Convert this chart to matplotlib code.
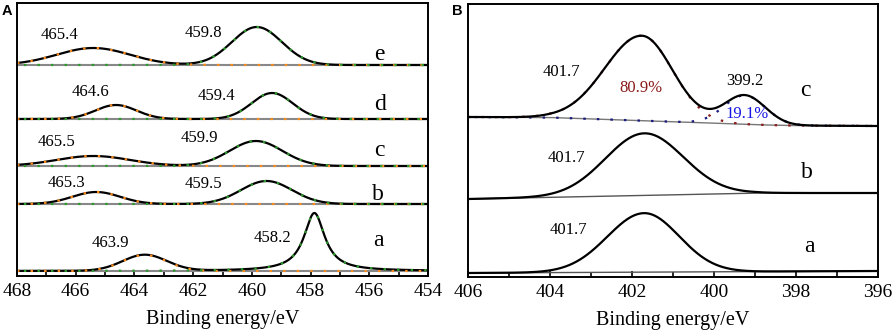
import numpy as np
import matplotlib
matplotlib.use('Agg')
import matplotlib.pyplot as plt
from matplotlib.ticker import MultipleLocator

plt.rcParams['font.family'] = ['Liberation Serif', 'DejaVu Serif']

# ---- panel A: Ti 2p, samples a..e (stacked, arbitrary intensity units)
samples_A = ['a', 'b', 'c', 'd', 'e']
offset_A = [5, 72, 110, 157, 211]
# Ti 2p1/2 component
p1_pos = [463.65, 465.3, 465.4, 464.63, 465.4]
p1_amp = [16, 12, 10, 14, 17]
p1_sig = [0.75, 0.81, 1.25, 0.7, 1.25]
p1_lab = ['463.9', '465.3', '465.5', '464.6', '465.4']
# Ti 2p3/2 component
p2_pos = [457.87, 459.5, 459.86, 459.31, 459.83]
p2_amp = [58, 23, 25, 26, 38]
p2_sig = [0.43, 0.87, 0.9, 0.7, 0.85]
p2_lab = ['458.2', '459.5', '459.9', '459.4', '459.8']

# ---- panel B: N 1s, samples a..c
samples_B = ['a', 'b', 'c']
base_B_E = [406, 404, 399, 398.2, 396]
base_B = [[4, 4.4, 5.4, 5.6, 6],
          [78, 79.7, 84, 84, 84],
          [160, 159.5, 152.3, 151.5, 151]]
n1_pos = [401.7, 401.7, 401.76]
n1_amp = [59, 62, 85]
n1_sl = [0.9, 0.95, 0.9]
n1_sr = [0.85, 0.95, 0.75]
n2_pos = [None, None, 399.25]
n2_amp = [0, 0, 29]
n2_sig = [1, 1, 0.5]
pct_c = ['80.9%', '19.1%']


def gauss(x, x0, a, s):
    return a * np.exp(-(x - x0) ** 2 / (2 * s ** 2))


def split_gauss(x, x0, a, sl, sr):
    s = np.where(x > x0, sl, sr)
    return a * np.exp(-(x - x0) ** 2 / (2 * s ** 2))


def lorentz(x, x0, a, g):
    return a * g ** 2 / ((x - x0) ** 2 + g ** 2)


fig = plt.figure(figsize=(8.95, 3.33), dpi=100)
W, H = 895, 333
axA = fig.add_axes([17 / W, (H - 276) / H, 411 / W, 273 / H])
axB = fig.add_axes([468 / W, (H - 277) / H, 410 / W, 273 / H])

orange = '#FF8C1A'
green = '#2E9A2E'
dots = (0, (1.1, 5))
dots2 = (3, (1.1, 5))

xA = np.linspace(468, 454, 800)
for i, s in enumerate(samples_A):
    base = np.full_like(xA, offset_A[i])
    c1 = gauss(xA, p1_pos[i], p1_amp[i], p1_sig[i])
    if i == 0:
        c2 = lorentz(xA, p2_pos[i], p2_amp[i], p2_sig[i])
    else:
        c2 = gauss(xA, p2_pos[i], p2_amp[i], p2_sig[i])
    axA.plot(xA, base, color='#888888', lw=1.5)
    axA.plot(xA, base + c1 + c2, color='black', lw=1.6)
    axA.plot(xA, base + c1, color=orange, lw=1.6, ls=dots)
    axA.plot(xA, base + c2, color=green, lw=1.6, ls=dots2)

labA = [  # (E, y) for p1 label, p2 label, sample letter
    [(464.83, 33), (459.31, 38), (455.7, 36)],
    [(466.33, 93), (461.66, 92), (455.7, 81)],
    [(466.67, 134), (461.8, 138), (455.64, 126)],
    [(465.48, 184), (461.22, 180), (455.64, 172)],
    [(466.54, 241), (461.66, 243), (455.64, 221)],
]
for i, s in enumerate(samples_A):
    (e1, y1), (e2, y2), (e3, y3) = labA[i]
    axA.text(e1, y1, p1_lab[i], fontsize=12, ha='center', va='center')
    axA.text(e2, y2, p2_lab[i], fontsize=12, ha='center', va='center')
    axA.text(e3, y3, s, fontsize=17, ha='center', va='center')

axA.set_xlim(468, 454)
axA.set_ylim(0, 273)

xB = np.linspace(406, 396, 800)
red = '#8B1A1A'
navy = '#1A1A80'
for i, s in enumerate(samples_B):
    base = np.interp(xB[::-1], base_B_E[::-1], base_B[i][::-1])[::-1]
    m1 = split_gauss(xB, n1_pos[i], n1_amp[i], n1_sl[i], n1_sr[i])
    if n2_pos[i] is not None:
        m2 = gauss(xB, n2_pos[i], n2_amp[i], n2_sig[i])
        axB.plot(xB, base, color='#777777', lw=1.0)
        axB.plot(xB, base + m1, color=red, lw=1.6, ls=dots)
        axB.plot(xB, base + m2, color=navy, lw=1.6, ls=dots2)
    else:
        m2 = 0 * xB
        axB.plot(xB, base, color='#555555', lw=1.0)
    axB.plot(xB, base + m1 + m2, color='black', lw=1.6)

axB.text(403.71, 205, '401.7', fontsize=12, ha='center', va='center')
axB.text(401.78, 189, pct_c[0], fontsize=12, ha='center', va='center', color=red)
axB.text(399.24, 196, '399.2', fontsize=12, ha='center', va='center')
axB.text(399.2, 163, pct_c[1], fontsize=12, ha='center', va='center', color='#1515E6')
axB.text(397.78, 186, 'c', fontsize=17, ha='center', va='center')
axB.text(403.59, 119, '401.7', fontsize=12, ha='center', va='center')
axB.text(397.73, 104, 'b', fontsize=17, ha='center', va='center')
axB.text(403.56, 47, '401.7', fontsize=12, ha='center', va='center')
axB.text(397.68, 30, 'a', fontsize=17, ha='center', va='center')

axB.set_xlim(406, 396)
axB.set_ylim(0, 273)

for ax in (axA, axB):
    ax.xaxis.set_major_locator(MultipleLocator(2))
    ax.xaxis.set_minor_locator(MultipleLocator(1))
    ax.set_yticks([])
    ax.tick_params(axis='x', which='both', direction='in', top=False,
                   labelsize=14, width=1.2, pad=5)
    ax.tick_params(axis='x', which='major', length=4.5)
    ax.tick_params(axis='x', which='minor', length=3.5)
    for sp in ax.spines.values():
        sp.set_linewidth(1.4)
    ax.set_xlabel('Binding energy/eV', fontsize=14.5, labelpad=7)

fig.text(2 / W, 1 - 11 / H, 'A', fontsize=10.5, fontweight='bold',
         family='Liberation Sans', va='center', ha='left')
fig.text(452 / W, 1 - 11 / H, 'B', fontsize=10.5, fontweight='bold',
         family='Liberation Sans', va='center', ha='left')

fig.savefig('out.png', dpi=100)
